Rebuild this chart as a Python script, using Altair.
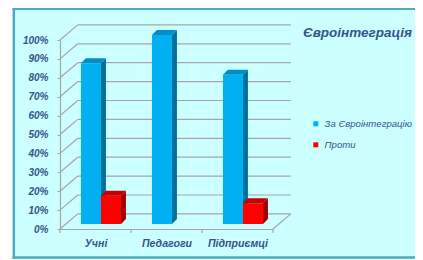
import altair as alt
import pandas as pd

# ---- data ----
CATEGORIES = ["Учні", "Педагоги", "Підприємці"]
SERIES = ["За Євроінтеграцію", "Проти"]
FOR_VALUES = [85, 100, 79]
AGAINST_VALUES = [15, 0, 11]
Y_TICKS = [0, 10, 20, 30, 40, 50, 60, 70, 80, 90, 100]
CAT_BOUNDS = [0, 1, 2, 3]
TITLE = "Євроінтеграція"

# ---- styling / 3-D geometry (in scale units) ----
FRONT = ["#00B0F0", "#FF0000"]
SIDE = ["#00709C", "#A00000"]
TOP = ["#008EC4", "#C40000"]
GRID = "#A6A6A6"
TXT = "#34558B"
FONT = "Liberation Sans"
GAP, BW = 0.218, 0.282          # gap before group, bar width
FDX, FDY = 0.077, 2.65          # bars' front face offset (depth)
BDX, BDY = 0.07, 2.65           # bar depth
WDX, WDY = 0.25, 8.0            # wall depth

fronts, sides, tops = [], [], []
for i, cat in enumerate(CATEGORIES):
    for j, vals in enumerate([FOR_VALUES, AGAINST_VALUES]):
        v = vals[i]
        if v <= 0:
            continue
        x0 = i + GAP + j * BW + FDX
        x1 = x0 + BW
        yb, yt = FDY, v + FDY
        bid = f"{i}-{j}"
        fronts.append(dict(series=SERIES[j], x=x0, x2=x1, y=yb, y2=yt))
        sides += [dict(bar=bid, f=SIDE[j], x=x1, y=yt, y2=yb),
                  dict(bar=bid, f=SIDE[j], x=x1 + BDX, y=yt + BDY, y2=yb + BDY)]
        tops += [dict(bar=bid, f=TOP[j], y=yt, x=x0, x2=x1),
                 dict(bar=bid, f=TOP[j], y=yt + BDY, x=x0 + BDX, x2=x1 + BDX)]

grid_rows = []
for v in Y_TICKS:
    grid_rows.append(dict(x=WDX, x2=3 + WDX, y=v + WDY, y2=v + WDY))
    grid_rows.append(dict(x=0, x2=WDX, y=v, y2=v + WDY))
grid_rows.append(dict(x=3, x2=3 + WDX, y=0, y2=WDY))

xs = alt.Scale(domain=[0, 3], nice=False, zero=False)
ys = alt.Scale(domain=[0, 100], nice=False, zero=False)

label_expr = "[" + ",".join(f"'{c}'" for c in CATEGORIES) + "][floor(datum.value)]"
AX = alt.Axis(values=[0.5, 1.5, 2.5], labelExpr=label_expr, ticks=False, grid=False,
              domainColor=GRID, domainWidth=1.2, title=None, labelPadding=9, zindex=2,
              labelFont=FONT, labelFontSize=10.6, labelFontStyle="italic",
              labelFontWeight="bold", labelColor=TXT)
AY = alt.Axis(values=Y_TICKS, labelExpr="datum.value + '%'", tickSize=3, tickColor=GRID,
              domainColor=GRID, domainWidth=1.2, grid=False, title=None, labelPadding=9,
              zindex=2, labelFont=FONT, labelFontSize=10, labelFontStyle="italic",
              labelFontWeight="bold", labelColor=TXT)

one = alt.Data(values=[{"k": 1}])
frame = alt.Chart(one).mark_rect(fill="#CCFFFF").encode(
    x=alt.value(-47), x2=alt.value(380), y=alt.value(-32), y2=alt.value(220))
BORDER = dict(color="#4BACC6", strokeWidth=2.5)
b_left = alt.Chart(one).mark_rule(**BORDER).encode(
    x=alt.value(-46.2), y=alt.value(-32), y2=alt.value(220))
b_top = alt.Chart(one).mark_rule(**BORDER).encode(
    x=alt.value(-47.4), x2=alt.value(380), y=alt.value(-31.2))
b_bot = alt.Chart(one).mark_rule(**BORDER).encode(
    x=alt.value(-47.4), x2=alt.value(380), y=alt.value(217.6))

grid = alt.Chart(pd.DataFrame(grid_rows)).mark_rule(color=GRID, strokeWidth=1.2).encode(
    x=alt.X("x:Q", scale=xs, axis=AX), x2="x2:Q",
    y=alt.Y("y:Q", scale=ys, axis=AY), y2="y2:Q")

side = alt.Chart(pd.DataFrame(sides)).mark_area(orient="vertical").encode(
    x=alt.X("x:Q", scale=xs, axis=AX),
    y=alt.Y("y:Q", scale=ys, axis=AY, stack=None), y2="y2:Q",
    fill=alt.Fill("f:N", scale=None, legend=None), detail="bar:N")

top = alt.Chart(pd.DataFrame(tops)).mark_area(orient="horizontal").encode(
    y=alt.Y("y:Q", scale=ys, axis=AY),
    x=alt.X("x:Q", scale=xs, axis=AX, stack=None), x2="x2:Q",
    fill=alt.Fill("f:N", scale=None, legend=None), detail="bar:N")

front = alt.Chart(pd.DataFrame(fronts)).mark_rect().encode(
    x=alt.X("x:Q", scale=xs, axis=AX), x2="x2:Q",
    y=alt.Y("y:Q", scale=ys, axis=AY), y2="y2:Q",
    color=alt.Color("series:N", scale=alt.Scale(domain=SERIES, range=FRONT),
                    legend=alt.Legend(orient="none", legendX=251, legendY=79, title=None,
                                      symbolType="square", symbolSize=25, symbolStrokeWidth=0,
                                      labelFont=FONT, labelFontSize=9.6, labelFontStyle="italic",
                                      labelColor=TXT, labelOffset=4, rowPadding=10, padding=0,
                                      zindex=2)))

ticks = alt.Chart(pd.DataFrame({"b": CAT_BOUNDS})).mark_rule(color=GRID, strokeWidth=1.2).encode(
    x=alt.X("b:Q", scale=xs, axis=AX), y=alt.value(189), y2=alt.value(193))

title = alt.Chart(one).mark_text(
    align="left", baseline="alphabetic", font=FONT, fontSize=13.5, fontStyle="italic",
    fontWeight="bold", color=TXT
).encode(x=alt.value(243), y=alt.value(-3.5), text=alt.value(TITLE))

chart = alt.layer(frame, b_left, b_top, b_bot, grid, side, top, front, ticks, title).properties(
    width=213, height=189,
    padding={"left": 52, "top": 32, "right": 142, "bottom": 30},
    autosize=alt.AutoSizeParams(type="none"),
    background="white",
).configure_view(strokeWidth=0)

chart.save("out.html", embed_options={"renderer": "svg", "actions": False})
